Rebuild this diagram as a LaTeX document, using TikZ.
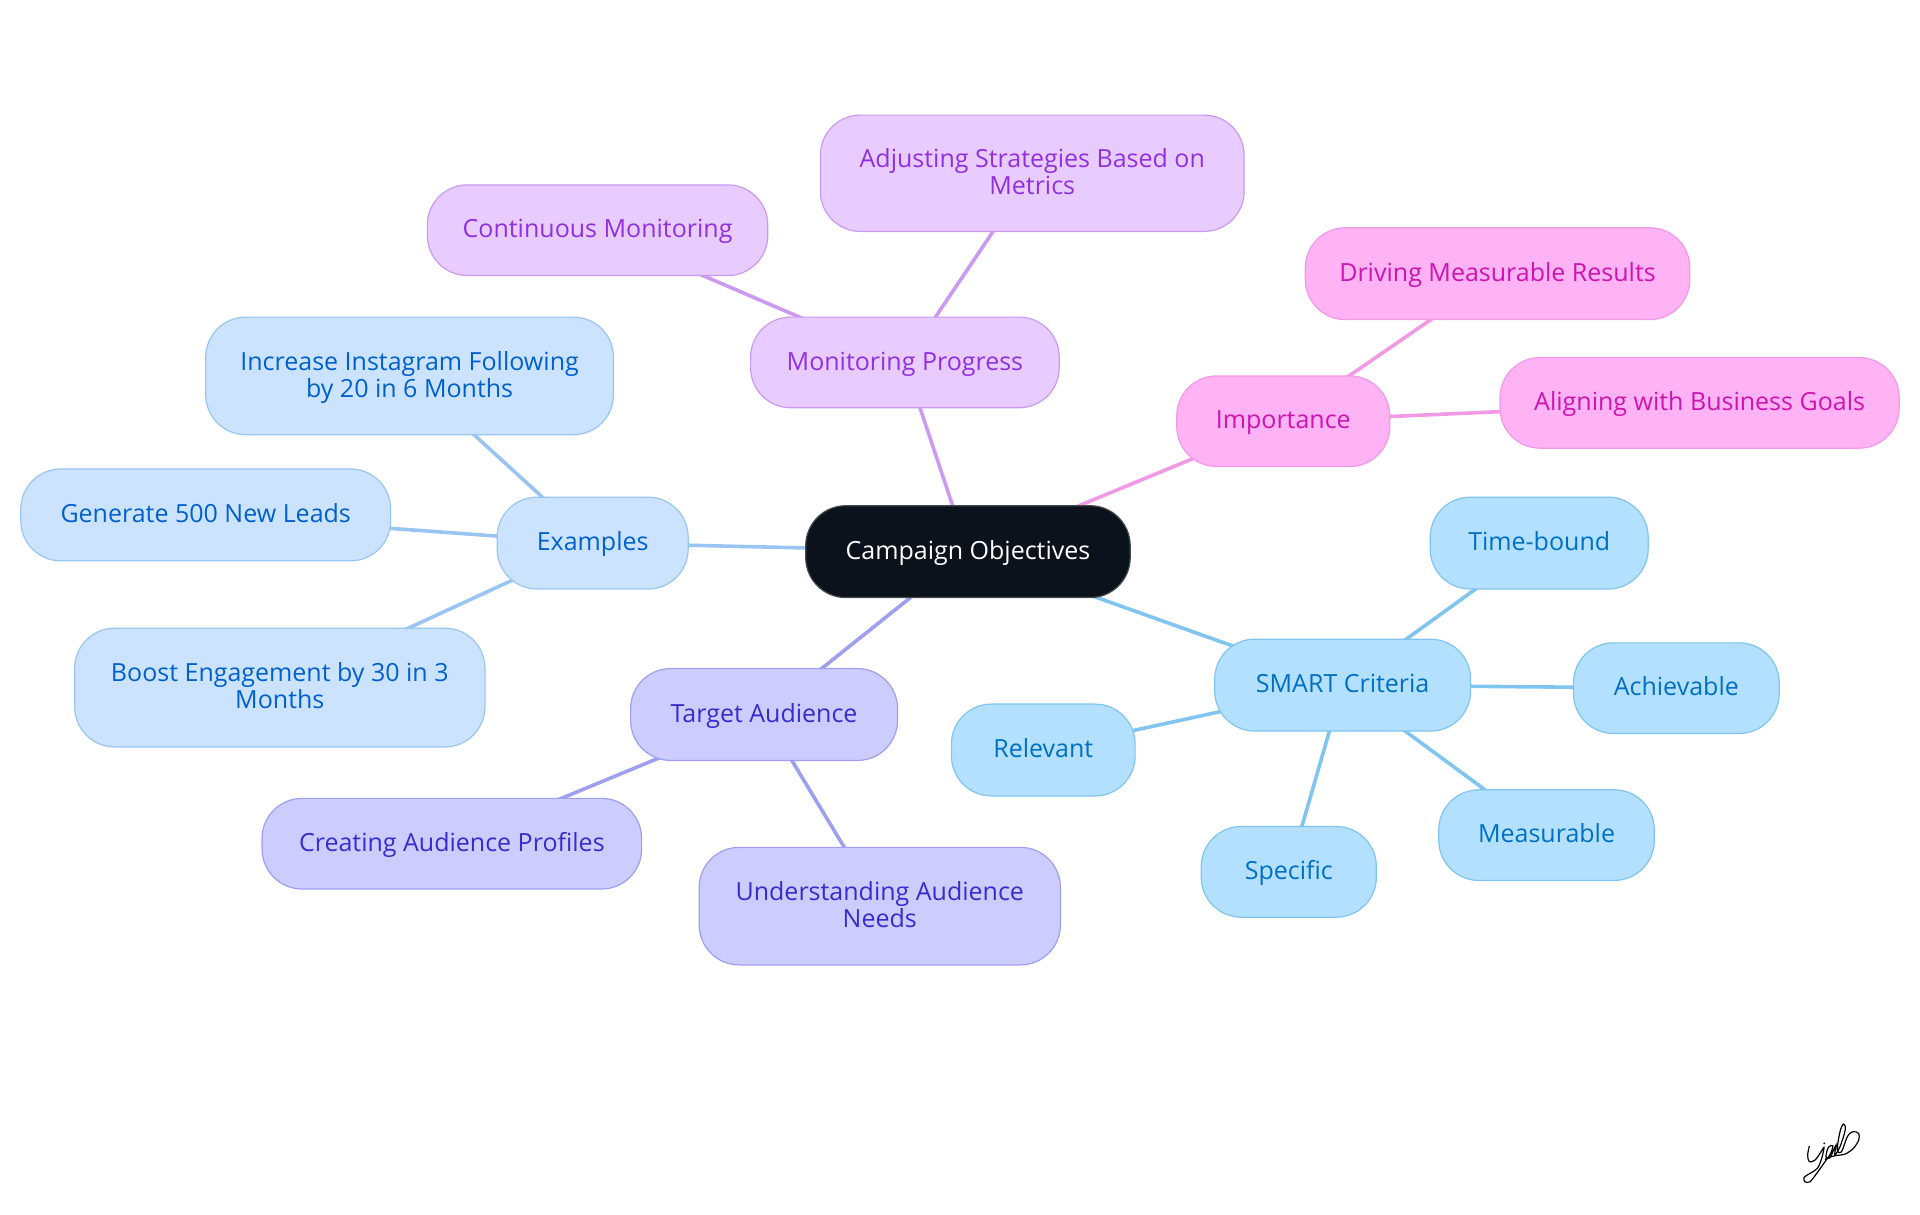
\documentclass[tikz,border=0pt]{standalone}
\usepackage{fontspec}
\setmainfont{Open Sans}
\usetikzlibrary{backgrounds}
\definecolor{sf}{HTML}{B3E0FF}\definecolor{sb}{HTML}{80C4F0}\definecolor{st}{HTML}{0070C4}
\definecolor{tf}{HTML}{CCCCFF}\definecolor{tb}{HTML}{9F9FF0}\definecolor{tt}{HTML}{3A2CCC}
\definecolor{ef}{HTML}{CCE3FF}\definecolor{eb}{HTML}{99C5F2}\definecolor{et}{HTML}{0060CC}
\definecolor{mf}{HTML}{E8CCFF}\definecolor{mb}{HTML}{CC99F2}\definecolor{mt}{HTML}{9030E0}
\definecolor{pf}{HTML}{FFB3F5}\definecolor{pb}{HTML}{F299E6}\definecolor{pt}{HTML}{CC14B0}
\definecolor{cf}{HTML}{0B121B}\definecolor{cb}{HTML}{444A50}
\newcommand{\mnode}[7]{%
  \pgfmathsetmacro{\mw}{(#4-#3)*0.61225}\pgfmathsetmacro{\mh}{(#6-#5)*0.61225}
  \node[box,#2,minimum width=\mw pt,minimum height=\mh pt] (#1) at ({(#3+#4)/2},{(#5+#6)/2}) {\rule{0pt}{.9em}#7\rule[-.28em]{0pt}{.28em}};}
\tikzset{
  box/.style={rounded corners=20pt,line width=0.6pt,inner sep=0pt,align=center,font=\fontsize{12.5}{13.5}\selectfont},
  nc/.style={fill=cf,draw=cb,text=white},
  ns/.style={fill=sf,draw=sb,text=st},
  nt/.style={fill=tf,draw=tb,text=tt},
  ne/.style={fill=ef,draw=eb,text=et},
  nm/.style={fill=mf,draw=mb,text=mt},
  np/.style={fill=pf,draw=pb,text=pt},
  link/.style={line width=1.8pt},
}
\begin{document}
\begin{tikzpicture}[x=0.61225pt,y=-0.61225pt]
\useasboundingbox (0,0) rectangle (1568.0,992.2);
\mnode{c}{nc}{658}{923}{413}{488}{Campaign Objectives}
\mnode{mon}{nm}{613}{865}{259}{333}{Monitoring Progress}
\mnode{adj}{nm}{670}{1016}{94}{189}{Adjusting Strategies Based on\\Metrics}
\mnode{con}{nm}{349}{627}{151}{225}{Continuous Monitoring}
\mnode{imp}{np}{961}{1135}{307}{381}{Importance}
\mnode{dri}{np}{1066}{1380}{186}{261}{Driving Measurable Results}
\mnode{ali}{np}{1225}{1551}{292}{366}{Aligning with Business Goals}
\mnode{exa}{ne}{406}{562}{406}{481}{Examples}
\mnode{inc}{ne}{168}{501}{259}{355}{Increase Instagram Following\\by 20 in 6 Months}
\mnode{gen}{ne}{17}{319}{383}{458}{Generate 500 New Leads}
\mnode{boo}{ne}{61}{396}{513}{610}{Boost Engagement by 30 in 3\\Months}
\mnode{tar}{nt}{515}{733}{546}{621}{Target Audience}
\mnode{cre}{nt}{214}{524}{652}{726}{Creating Audience Profiles}
\mnode{und}{nt}{571}{866}{692}{788}{Understanding Audience\\Needs}
\mnode{sma}{ns}{992}{1201}{522}{597}{SMART Criteria}
\mnode{tim}{ns}{1168}{1346}{406}{481}{Time-bound}
\mnode{ach}{ns}{1285}{1453}{525}{599}{Achievable}
\mnode{mea}{ns}{1175}{1351}{645}{719}{Measurable}
\mnode{spe}{ns}{981}{1124}{675}{749}{Specific}
\mnode{rel}{ns}{777}{927}{575}{650}{Relevant}
\begin{pgfonlayer}{background}
\draw[link,draw=mb] (c.center) -- (mon.center);
\draw[link,draw=mb] (mon.center) -- (adj.center);
\draw[link,draw=mb] (mon.center) -- (con.center);
\draw[link,draw=pb] (c.center) -- (imp.center);
\draw[link,draw=pb] (imp.center) -- (dri.center);
\draw[link,draw=pb] (imp.center) -- (ali.center);
\draw[link,draw=eb] (c.center) -- (exa.center);
\draw[link,draw=eb] (exa.center) -- (inc.center);
\draw[link,draw=eb] (exa.center) -- (gen.center);
\draw[link,draw=eb] (exa.center) -- (boo.center);
\draw[link,draw=tb] (c.center) -- (tar.center);
\draw[link,draw=tb] (tar.center) -- (cre.center);
\draw[link,draw=tb] (tar.center) -- (und.center);
\draw[link,draw=sb] (c.center) -- (sma.center);
\draw[link,draw=sb] (sma.center) -- (tim.center);
\draw[link,draw=sb] (sma.center) -- (ach.center);
\draw[link,draw=sb] (sma.center) -- (mea.center);
\draw[link,draw=sb] (sma.center) -- (spe.center);
\draw[link,draw=sb] (sma.center) -- (rel.center);
\end{pgfonlayer}
% signature, in thirds of a reference pixel from (1760,1090)
\begin{scope}[shift={(1437.3,890.2)},x=0.1667pt,y=-0.1667pt,line width=0.6pt,black]
\draw plot[smooth,tension=0.55] coordinates {(148,168)(143,195)(148,215)(165,210)(180,190)(192,172)(185,205)(172,235)(150,250)(132,262)(135,275)(150,275)(170,250)(190,222)(212,190)(218,167)(205,172)(198,200)(210,203)(228,165)(224,195)(240,170)(256,118)(250,102)(240,125)(232,178)(244,186)(262,140)(278,125)(296,130)(296,150)(280,175)(255,192)(225,197)(205,203)(195,208)};
\fill (193,160) circle (3);
\end{scope}
\end{tikzpicture}
\end{document}
